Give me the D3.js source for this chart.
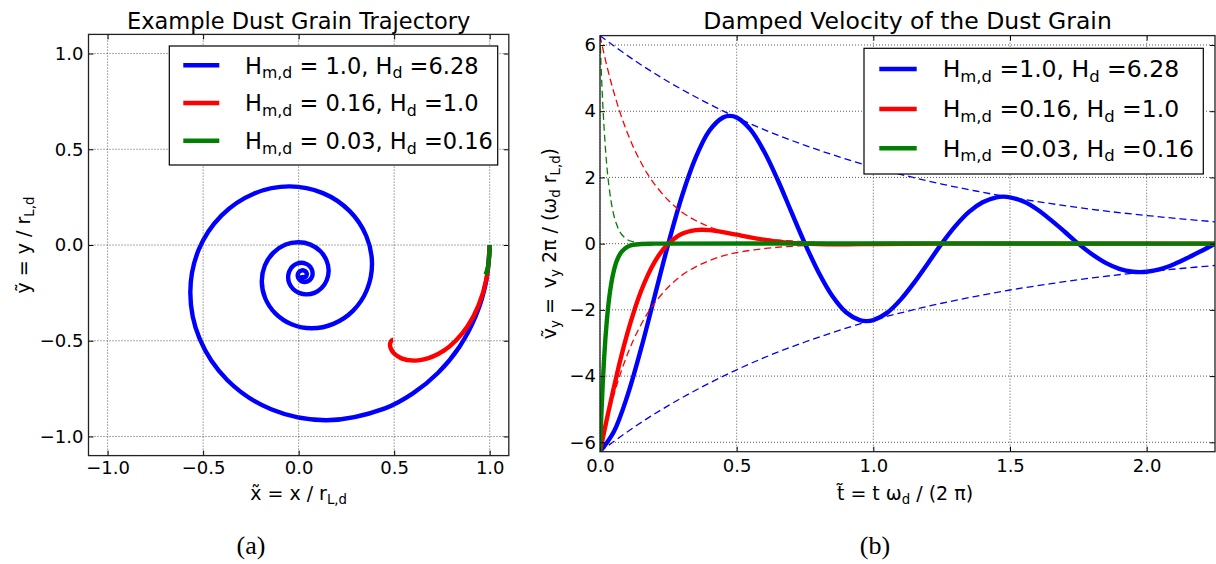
<!DOCTYPE html>
<html>
<head>
<meta charset="utf-8">
<script src="https://cdn.jsdelivr.net/npm/d3@7"></script>
<style>
  body { margin: 0; background: #fff; }
  svg { display: block; }
  text { white-space: pre; }
</style>
</head>
<body>
<svg id="fig" width="1216" height="564" font-family="DejaVu Sans"></svg>
<script>
// ---- panel (a): trajectories ----
const trajBlueX = [1.000, 0.981, 0.927, 0.842, 0.730, 0.598, 0.452, 0.146, -0.144, -0.374, -0.519, -0.567, -0.523, -0.403,
  -0.235, -0.049, 0.127, 0.266, 0.354, 0.384, 0.357, 0.284, 0.182, 0.069, -0.037, -0.122, -0.175, -0.193, -0.177,
  -0.133, -0.071, -0.002, 0.062, 0.114, 0.146, 0.157, 0.147, 0.120, 0.083, 0.041, 0.002, -0.029, -0.049, -0.055,
  -0.049, -0.033, -0.010, 0.015, 0.038, 0.057, 0.069, 0.073, 0.070, 0.060, 0.046, 0.031, 0.016, 0.005, -0.002, -0.005,
  -0.003, 0.003, 0.012, 0.021, 0.030, 0.037, 0.041, 0.043, 0.041, 0.038, 0.033, 0.027, 0.022, 0.017, 0.015, 0.014];
const trajBlueY = [0.000, -0.192, -0.371, -0.531, -0.667, -0.775, -0.853, -0.915, -0.858, -0.705, -0.488, -0.249, -0.024, 0.155,
  0.268, 0.306, 0.271, 0.178, 0.047, -0.098, -0.235, -0.344, -0.412, -0.435, -0.414, -0.357, -0.278, -0.190, -0.107,
  -0.041, 0.001, 0.014, 0.002, -0.033, -0.081, -0.134, -0.184, -0.225, -0.250, -0.258, -0.250, -0.230, -0.200, -0.168,
  -0.138, -0.113, -0.098, -0.093, -0.098, -0.110, -0.128, -0.148, -0.166, -0.181, -0.190, -0.193, -0.190, -0.183, -0.172, -0.160,
  -0.149, -0.140, -0.134, -0.132, -0.134, -0.139, -0.145, -0.152, -0.159, -0.165, -0.168, -0.169, -0.168, -0.165, -0.161, -0.157];
const trajRedX = [1.000, 0.983, 0.941, 0.885, 0.822, 0.760, 0.701, 0.649, 0.604, 0.538, 0.500, 0.483, 0.478, 0.481, 0.486, 0.491, 0.495];
const trajRedY = [0.000, -0.177, -0.317, -0.423, -0.500, -0.552, -0.583, -0.599, -0.604, -0.592, -0.567, -0.542, -0.522, -0.508, -0.500, -0.496, -0.495];
const trajGreenX = [1.000, 0.9996, 0.9985, 0.995, 0.9916, 0.988, 0.985, 0.979, 0.976];
const trajGreenY = [0.000, -0.028, -0.052, -0.087, -0.110, -0.126, -0.136, -0.151, -0.155];

const trajTicks = [-1.0, -0.5, 0.0, 0.5, 1.0];
const trajLim = [-1.1, 1.1];

// ---- panel (b): damped velocity ----
const tBlue = [0, 0.05, 0.1, 0.15, 0.2, 0.25, 0.3, 0.35, 0.4, 0.45, 0.475, 0.5, 0.55, 0.6, 0.65, 0.7, 0.75, 0.8, 0.85,
  0.9, 0.95, 0.975, 1.0, 1.05, 1.1, 1.15, 1.2, 1.25, 1.3, 1.35, 1.4, 1.45, 1.475, 1.5, 1.55, 1.6, 1.65, 1.7, 1.75, 1.8,
  1.85, 1.9, 1.95, 1.975, 2.0, 2.05, 2.1, 2.15, 2.2, 2.25];
const vBlue = [-6.28, -5.69, -4.60, -3.18, -1.59, 0, 1.44, 2.60, 3.41, 3.81, 3.86, 3.81, 3.45, 2.79, 1.93, 0.96, 0, -0.87, -1.58,
  -2.07, -2.31, -2.34, -2.31, -2.09, -1.69, -1.17, -0.59, 0, 0.53, 0.96, 1.25, 1.40, 1.42, 1.40, 1.27, 1.03, 0.71, 0.36, 0, -0.32,
  -0.58, -0.76, -0.85, -0.86, -0.85, -0.77, -0.62, -0.43, -0.22, 0];
const tRed = [0, 0.025, 0.05, 0.075, 0.1, 0.125, 0.15, 0.175, 0.2, 0.225, 0.25, 0.3, 0.35, 0.375, 0.4, 0.45, 0.5, 0.55,
  0.6, 0.65, 0.7, 0.75, 0.8, 0.9, 1.0, 1.25, 2.25];
const vRed = [-6.28, -5.30, -4.37, -3.49, -2.71, -2.03, -1.44, -0.95, -0.55, -0.24, 0, 0.30, 0.41, 0.42, 0.41, 0.35, 0.27, 0.19,
  0.12, 0.06, 0.02, 0, -0.01, -0.02, -0.01, 0, 0];
const tGreen = [0, 0.005, 0.01, 0.015, 0.02, 0.025, 0.03, 0.035, 0.04, 0.045, 0.05, 0.06, 0.07, 0.08, 0.1, 0.12, 0.15, 0.2, 2.25];
const vGreen = [-6.28, -5.16, -4.23, -3.47, -2.84, -2.33, -1.90, -1.55, -1.27, -1.03, -0.84, -0.55, -0.36, -0.24, -0.10, -0.04, -0.01, 0, 0];

const tEnvBlue = [0, 0.125, 0.25, 0.375, 0.5, 0.625, 0.75, 0.875, 1.0, 1.125, 1.25, 1.375, 1.5, 1.625, 1.75, 1.875, 2.0, 2.125, 2.25];
const envBlueUp = [6.28, 5.54, 4.89, 4.32, 3.81, 3.36, 2.97, 2.62, 2.31, 2.04, 1.80, 1.59, 1.40, 1.24, 1.09, 0.96, 0.85, 0.75, 0.66];
const envBlueLow = [-6.28, -5.54, -4.89, -4.32, -3.81, -3.36, -2.97, -2.62, -2.31, -2.04, -1.80, -1.59, -1.40, -1.24, -1.09, -0.96, -0.85, -0.75, -0.66];
const tEnvRed = [0, 0.025, 0.05, 0.075, 0.1, 0.125, 0.15, 0.175, 0.2, 0.25, 0.3, 0.35, 0.4, 0.45, 0.5, 0.6, 0.7, 0.8, 0.9, 1.0, 1.25, 2.25];
const envRedUp = [6.28, 5.37, 4.59, 3.92, 3.35, 2.86, 2.45, 2.09, 1.79, 1.31, 0.95, 0.70, 0.51, 0.37, 0.27, 0.15, 0.08, 0.04, 0.02, 0.01, 0, 0];
const envRedLow = [-6.28, -5.37, -4.59, -3.92, -3.35, -2.86, -2.45, -2.09, -1.79, -1.31, -0.95, -0.70, -0.51, -0.37, -0.27, -0.15, -0.08, -0.04, -0.02, -0.01, 0, 0];
const tEnvGreen = [0, 0.005, 0.01, 0.015, 0.02, 0.025, 0.03, 0.04, 0.05, 0.06, 0.07, 0.08, 0.1, 0.12, 0.15, 0.2, 2.25];
const envGreenUp = [6.28, 5.16, 4.24, 3.49, 2.86, 2.35, 1.93, 1.31, 0.88, 0.60, 0.40, 0.27, 0.12, 0.06, 0.02, 0, 0];
const envGreenLow = [-6.28, -5.16, -4.24, -3.49, -2.86, -2.35, -1.93, -1.31, -0.88, -0.60, -0.40, -0.27, -0.12, -0.06, -0.02, 0, 0];

const timeTicks = [0.0, 0.5, 1.0, 1.5, 2.0];
const timeLim = [0, 2.25];
const velTicks = [-6, -4, -2, 0, 2, 4, 6];
const velLim = [-6.2832, 6.2832];

// legend labels: plain / subscript pieces alternate
const legendA = [
  ["H", "m,d", " = 1.0, H", "d", " =6.28"],
  ["H", "m,d", " = 0.16, H", "d", " =1.0"],
  ["H", "m,d", " = 0.03, H", "d", " =0.16"]
];
const legendB = [
  ["H", "m,d", " =1.0, H", "d", " =6.28"],
  ["H", "m,d", " =0.16, H", "d", " =1.0"],
  ["H", "m,d", " =0.03, H", "d", " =0.16"]
];
const colors = ["#0000ff", "#ff0000", "#008000"];

const svg = d3.select("#fig");

// writes pieces into a text element, odd pieces as subscripts
function rich(text, parts, size) {
  parts.forEach((p, i) => {
    const sub = i % 2 === 1;
    const ts = text.append("tspan").attr("font-size", sub ? size * 0.7 : size).text(p);
    if (sub) ts.attr("dy", size * 0.2);
    else if (i > 0) ts.attr("dy", -size * 0.2);
  });
  return text;
}

function makePanel(x, y, id) {
  const g = svg.append("g");
  const [x0, x1] = x.range(), [y0, y1] = y.range();
  g.append("clipPath").attr("id", id).append("rect")
    .attr("x", x0).attr("y", y1).attr("width", x1 - x0).attr("height", y0 - y1);
  const plot = g.append("g").attr("clip-path", `url(#${id})`);
  return { g, plot };
}

function finishPanel(g, x, y, xTicks, yTicks, xFmt, yFmt, padX, padY) {
  const [x0, x1] = x.range(), [y0, y1] = y.range();
  // classic style: dotted grid on top of the lines
  const grid = g.append("g").attr("stroke", "#444").attr("stroke-width", 0.9).attr("stroke-dasharray", "1,2");
  grid.selectAll(".gx").data(xTicks).join("line")
    .attr("x1", d => x(d)).attr("x2", d => x(d)).attr("y1", y0).attr("y2", y1);
  grid.selectAll(".gy").data(yTicks).join("line")
    .attr("y1", d => y(d)).attr("y2", d => y(d)).attr("x1", x0).attr("x2", x1);

  const style = a => a.attr("font-size", 18).attr("font-family", "DejaVu Sans").call(s => s.select(".domain").remove());
  g.append("g").attr("transform", `translate(0,${y0})`)
    .call(d3.axisBottom(x).tickValues(xTicks).tickFormat(xFmt).tickSizeInner(-5).tickSizeOuter(0).tickPadding(padX)).call(style);
  g.append("g").attr("transform", `translate(0,${y1})`)
    .call(d3.axisTop(x).tickValues(xTicks).tickFormat("").tickSizeInner(-5).tickSizeOuter(0)).call(style);
  g.append("g").attr("transform", `translate(${x0},0)`)
    .call(d3.axisLeft(y).tickValues(yTicks).tickFormat(yFmt).tickSizeInner(-5).tickSizeOuter(0).tickPadding(padY)).call(style);
  g.append("g").attr("transform", `translate(${x1},0)`)
    .call(d3.axisRight(y).tickValues(yTicks).tickFormat("").tickSizeInner(-5).tickSizeOuter(0)).call(style);

  g.append("rect").attr("x", x0).attr("y", y1).attr("width", x1 - x0).attr("height", y0 - y1)
    .attr("fill", "none").attr("stroke", "#222").attr("stroke-width", 1.3);
}

function legend(g, box, rows, lineX, textX, rowY, size) {
  g.append("rect").attr("x", box[0]).attr("y", box[1]).attr("width", box[2]).attr("height", box[3])
    .attr("fill", "#fff").attr("stroke", "#000").attr("stroke-width", 1.2);
  rows.forEach((parts, i) => {
    g.append("line").attr("x1", lineX[0]).attr("x2", lineX[1]).attr("y1", rowY[i]).attr("y2", rowY[i])
      .attr("stroke", colors[i]).attr("stroke-width", 4.5);
    rich(g.append("text").attr("x", textX).attr("y", rowY[i] + 8.3), parts, size);
  });
}

// ================= panel (a) =================
const xa = d3.scaleLinear(trajLim, [88.5, 508.8]);
const ya = d3.scaleLinear(trajLim, [455.6, 34.4]);
const pa = makePanel(xa, ya, "clipA");
const lineA = d3.line().x(d => xa(d[0])).y(d => ya(d[1])).curve(d3.curveCatmullRom);
[[trajBlueX, trajBlueY], [trajRedX, trajRedY], [trajGreenX, trajGreenY]].forEach(([xs, ys], i) => {
  pa.plot.append("path").datum(d3.zip(xs, ys)).attr("d", lineA)
    .attr("fill", "none").attr("stroke", colors[i]).attr("stroke-width", 4.4).attr("stroke-linejoin", "round");
});
finishPanel(pa.g, xa, ya, trajTicks, trajTicks, d3.format(".1f"), d3.format(".1f"), 6, 5);
legend(pa.g, [169.3, 46, 328.4, 119], legendA, [183.3, 219.3], 245, [65.3, 103, 140.7], 22.5);

svg.append("text").attr("x", 298.6).attr("y", 29.3).attr("text-anchor", "middle").attr("font-size", 22.5)
  .text("Example Dust Grain Trajectory");
rich(svg.append("text").attr("x", 298.6).attr("y", 500).attr("text-anchor", "middle"), ["x\u0303 = x / r", "L,d"], 19);
rich(svg.append("text").attr("transform", "translate(30,245) rotate(-90)").attr("text-anchor", "middle"), ["\u1ef9 = y / r", "L,d"], 19);
svg.append("text").attr("x", 251).attr("y", 554).attr("text-anchor", "middle")
  .style("font-family", "'Liberation Serif', serif").attr("font-size", 26).text("(a)");

// ================= panel (b) =================
const xb = d3.scaleLinear(timeLim, [600, 1215]);
const yb = d3.scaleLinear(velLim, [451.7, 35.6]);
const pb = makePanel(xb, yb, "clipB");
const lineB = d3.line().x(d => xb(d[0])).y(d => yb(d[1])).curve(d3.curveCatmullRom);
const seriesB = [
  [tBlue, vBlue, tEnvBlue, envBlueUp, envBlueLow],
  [tRed, vRed, tEnvRed, envRedUp, envRedLow],
  [tGreen, vGreen, tEnvGreen, envGreenUp, envGreenLow]
];
seriesB.forEach(([ts, vs, te, up, low], i) => {
  pb.plot.append("path").datum(d3.zip(ts, vs)).attr("d", lineB)
    .attr("fill", "none").attr("stroke", colors[i]).attr("stroke-width", 4.4).attr("stroke-linejoin", "round");
  [up, low].forEach(env => {
    pb.plot.append("path").datum(d3.zip(te, env)).attr("d", lineB)
      .attr("fill", "none").attr("stroke", colors[i]).attr("stroke-width", 1.3).attr("stroke-dasharray", "7,4");
  });
});
finishPanel(pb.g, xb, yb, timeTicks, velTicks, d3.format(".1f"), d3.format("d"), 7.5, 4);
legend(pb.g, [864, 48.3, 339.3, 125.7], legendB, [879.3, 916.7], 942.7, [69, 109, 148.3], 23.5);

svg.append("text").attr("x", 907.5).attr("y", 29.3).attr("text-anchor", "middle").attr("font-size", 23.5)
  .text("Damped Velocity of the Dust Grain");
rich(svg.append("text").attr("x", 905).attr("y", 500).attr("text-anchor", "middle"), ["t\u0303 = t \u03c9", "d", " / (2 \u03c0)"], 19);
rich(svg.append("text").attr("transform", "translate(556,243.6) rotate(-90)").attr("text-anchor", "middle"),
  ["\u1e7d", "y", " = \u2009v", "y", " 2\u03c0 / (\u03c9", "d", " r", "L,d", ")"], 19);
svg.append("text").attr("x", 875).attr("y", 554).attr("text-anchor", "middle")
  .style("font-family", "'Liberation Serif', serif").attr("font-size", 26).text("(b)");
</script>
</body>
</html>
